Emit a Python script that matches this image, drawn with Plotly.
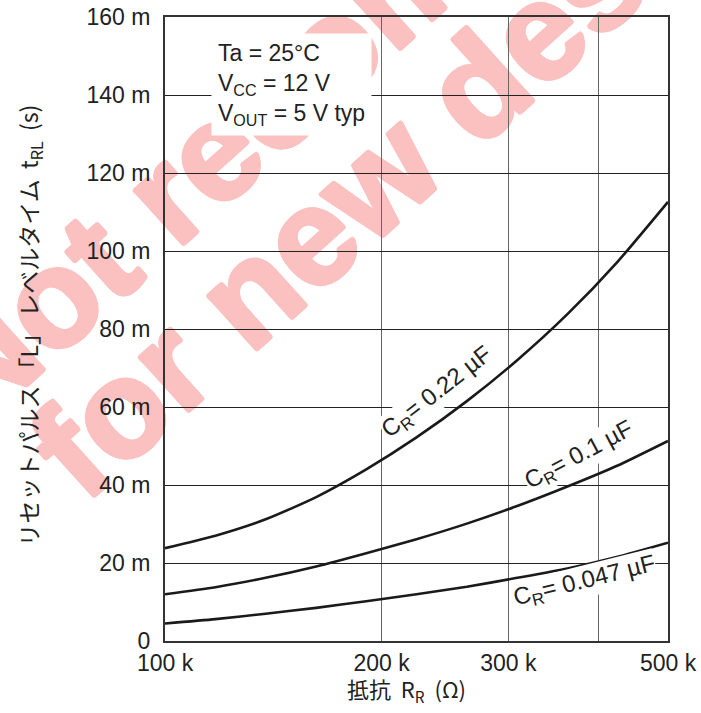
import numpy as np
import plotly.graph_objects as go

# ---- data (R in ohms, t in ms) ----
r_pts = [100e3, 117.5e3, 138e3, 162.2e3, 190.4e3, 223.6e3, 262.7e3, 308.6e3, 362.4e3, 425.7e3, 500e3]
t_022 = [23.8, 27.0, 31.2, 36.9, 44.0, 52.2, 61.5, 72.0, 83.8, 97.3, 112.6]
t_01 = [12.0, 13.8, 16.2, 19.1, 22.5, 26.1, 30.1, 34.6, 39.6, 45.0, 51.3]
t_047 = [4.5, 5.6, 7.0, 8.5, 10.2, 12.0, 13.9, 16.2, 18.6, 21.6, 25.2]

x_tickvals = [100e3, 200e3, 300e3, 400e3, 500e3]
x_ticktext = ["100 k", "200 k", "300 k", "", "500 k"]
y_tickvals = [0, 20, 40, 60, 80, 100, 120, 140, 160]
y_ticktext = ["0", "20 m", "40 m", "60 m", "80 m", "100 m", "120 m", "140 m", "160 m"]

# curve labels
lbl_r = [239e3, 377e3, 383e3]
lbl_t = [63.8, 47.5, 15.2]
lbl_text = ["C<sub>R</sub>= 0.22 µF", "C<sub>R</sub>= 0.1 µF", "C<sub>R</sub>= 0.047 µF"]
lbl_ang = [-38, -28, -14]

FONT = "Liberation Sans, Arial, sans-serif"
INK = "#222222"
PINK = "#FBC0C0"

fig = go.Figure()
for t in [t_022, t_01, t_047]:
    fig.add_trace(go.Scatter(x=r_pts, y=t, mode="lines",
                             line=dict(color="#1a1a1a", width=2.6, shape="spline", smoothing=0.6),
                             showlegend=False, hoverinfo="skip"))

annotations = []
for r, t, txt, ang in zip(lbl_r, lbl_t, lbl_text, lbl_ang):
    annotations.append(dict(x=np.log10(r), y=t, xref="x", yref="y", text=txt,
                            showarrow=False, textangle=ang, bgcolor="white", borderpad=0,
                            font=dict(family=FONT, size=24, color=INK)))

# condition box
annotations.append(dict(x=0.0915, y=0.975, xref="paper", yref="paper", xanchor="left", yanchor="top",
                        align="left", showarrow=False, bgcolor="white", borderpad=6,
                        text="Ta = 25°C<br>V<sub>CC</sub> = 12 V<br>V<sub>OUT</sub> = 5 V typ",
                        font=dict(family=FONT, size=23, color=INK)))
# axis titles
annotations.append(dict(x=0.481, y=-0.0785, xref="paper", yref="paper", showarrow=False,
                        xanchor="center", yanchor="middle",
                        text="抵抗  R<sub>R</sub>  (Ω)",
                        font=dict(family="Noto Sans CJK JP, " + FONT, size=22, color=INK)))
annotations.append(dict(x=-0.269, y=0.505, xref="paper", yref="paper", showarrow=False, textangle=-90,
                        xanchor="center", yanchor="middle",
                        text="リセットパルス 「L」 レベルタイム  t<sub>RL</sub>  (s)",
                        font=dict(family="Noto Sans CJK JP, " + FONT, size=23, color=INK)))

shadow = ", ".join(f"{dx}px {dy}px 0 {PINK}" for dx, dy in
                   [(2, 0), (-2, 0), (0, 2), (0, -2), (1.5, 1.5), (-1.5, -1.5), (1.5, -1.5), (-1.5, 1.5)])
wm_font = dict(family="Liberation Sans, Arial, sans-serif", size=138, color=PINK, shadow=shadow)
shapes = []
for cx, cy, txt in [(0.44, 1.06, "<b>Not recommended</b>"), (0.535, 0.854, "<b>for new designs</b>")]:
    shapes.append(dict(type="rect", xref="paper", yref="paper",
                       x0=cx - 0.01, x1=cx + 0.01, y0=cy - 0.01, y1=cy + 0.01,
                       line=dict(width=0), fillcolor="rgba(0,0,0,0)", layer="below",
                       label=dict(text=txt, font=wm_font, textangle=-42, textposition="middle center")))

fig.update_layout(
    width=701, height=713,
    margin=dict(l=165, r=33, t=17, b=72, autoexpand=False),
    paper_bgcolor="white", plot_bgcolor="rgba(0,0,0,0)",
    annotations=annotations, shapes=shapes,
    font=dict(family=FONT, size=23, color=INK),
)
fig.update_xaxes(type="log", range=[5, np.log10(5e5)], tickmode="array",
                 tickvals=x_tickvals, ticktext=x_ticktext, automargin=False,
                 showgrid=True, gridcolor="#666666", gridwidth=1,
                 showline=True, linecolor="#333333", linewidth=2, mirror=True,
                 ticks="", ticklabelstandoff=0, zeroline=False,
                 tickfont=dict(family=FONT, size=23, color=INK))
fig.update_yaxes(range=[0, 160], tickmode="array", tickvals=y_tickvals, ticktext=y_ticktext,
                 automargin=False,
                 showgrid=True, gridcolor="#222222", gridwidth=1,
                 showline=True, linecolor="#333333", linewidth=2, mirror=True,
                 ticks="", ticklabelstandoff=8, zeroline=False,
                 tickfont=dict(family=FONT, size=23, color=INK))

fig.write_html("out.html", config={"displayModeBar": False},
               post_script="document.body.style.margin='0px';document.body.style.overflow='hidden';")
